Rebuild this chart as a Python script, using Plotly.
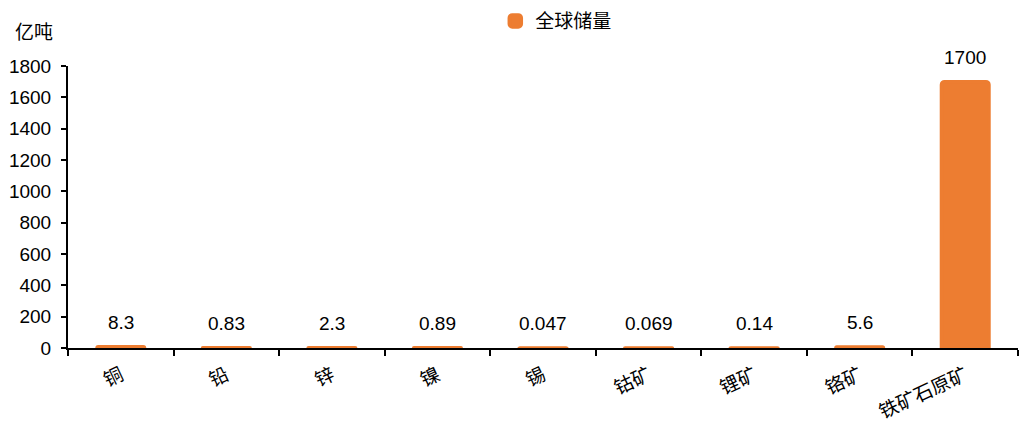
import plotly.graph_objects as go

categories = ["铜", "铅", "锌", "镍", "锡", "钴矿", "锂矿", "铬矿", "铁矿石原矿"]
reserves = [8.3, 0.83, 2.3, 0.89, 0.047, 0.069, 0.14, 5.6, 1700]
value_labels = ["8.3", "0.83", "2.3", "0.89", "0.047", "0.069", "0.14", "5.6", "1700"]
y_ticks = [0, 200, 400, 600, 800, 1000, 1200, 1400, 1600, 1800]

ORANGE = "#ED7D31"
CJK = "Noto Sans CJK SC"
NUM = "Liberation Sans"

fig = go.Figure()
fig.add_trace(go.Bar(
    x=categories,
    y=reserves,
    name="全球储量",
    marker=dict(color=ORANGE, line=dict(color=ORANGE, width=3.5), cornerradius=3),
    cliponaxis=False,
))

# value labels sit a little above each bar
for cat, val, lab in zip(categories, reserves, value_labels):
    fig.add_annotation(
        x=cat, y=val, text=lab,
        xref="x", yref="y",
        yanchor="bottom", yshift=12,
        showarrow=False,
        font=dict(family=NUM, size=19, color="#000000"),
    )

fig.update_layout(
    width=1029,
    height=424,
    margin=dict(l=68, r=11, t=66, b=76, autoexpand=False),
    paper_bgcolor="white",
    plot_bgcolor="white",
    bargap=0.55,
    showlegend=True,
    legend=dict(
        orientation="h",
        x=0.514, xanchor="center",
        y=0.995, yanchor="top",
        yref="container",
        font=dict(family=CJK, size=19, color="#000000"),
        itemwidth=30,
    ),
    xaxis=dict(
        type="category",
        automargin=False,
        tickson="boundaries",
        ticks="outside",
        ticklen=6,
        tickcolor="#000000",
        tickwidth=1.5,
        showline=True,
        linecolor="#000000",
        linewidth=2,
        showgrid=False,
        tickangle=-25,
        ticklabelstandoff=7,
        tickfont=dict(family=CJK, size=19, color="#000000"),
    ),
    yaxis=dict(
        automargin=False,
        range=[0, 1800],
        tickvals=y_ticks,
        ticks="outside",
        ticklen=5,
        tickcolor="#000000",
        tickwidth=1.5,
        showline=True,
        linecolor="#000000",
        linewidth=2,
        showgrid=False,
        zeroline=False,
        ticklabelstandoff=6,
        tickfont=dict(family=NUM, size=19, color="#000000"),
    ),
)

fig.add_annotation(
    text="亿吨",
    xref="paper", yref="paper",
    x=-0.058, y=1.0, yshift=20,
    xanchor="left", yanchor="bottom",
    showarrow=False,
    font=dict(family=CJK, size=19, color="#000000"),
)

fig.write_html("out.html")
